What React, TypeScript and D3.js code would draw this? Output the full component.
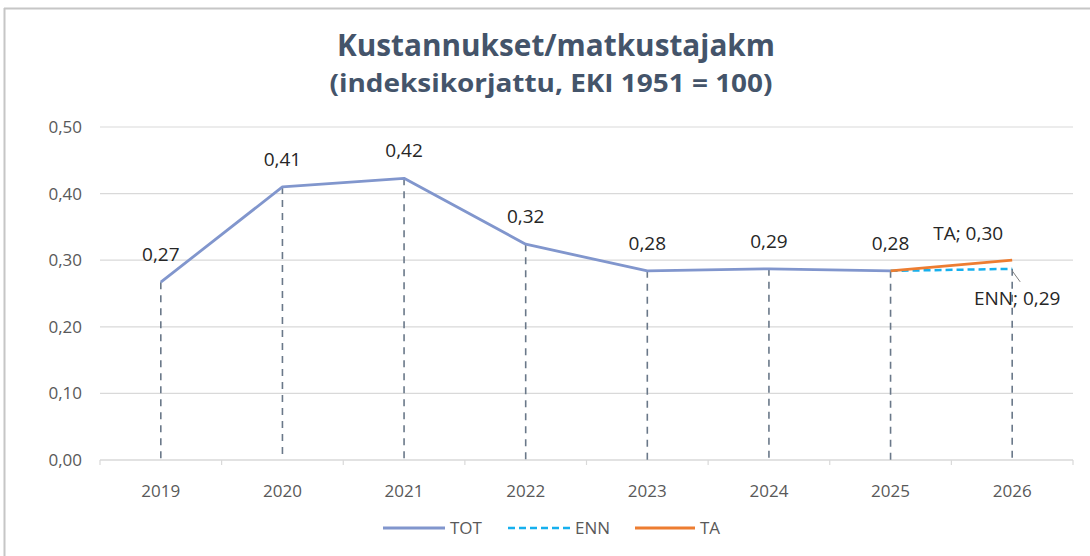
import React from "react";
import * as d3 from "d3";

const years = ["2019", "2020", "2021", "2022", "2023", "2024", "2025", "2026"];
const totValues: (number | null)[] = [0.267, 0.41, 0.423, 0.324, 0.284, 0.287, 0.284, null];
const ennValues: (number | null)[] = [null, null, null, null, null, null, 0.284, 0.287];
const taValues: (number | null)[] = [null, null, null, null, null, null, 0.284, 0.3];
const yTicks = [0, 0.1, 0.2, 0.3, 0.4, 0.5];

const W = 1090;
const H = 556;
const FONT = "'Open Sans', 'Liberation Sans', sans-serif";
const TOT_COLOR = "#8196cd";
const ENN_COLOR = "#16b0ee";
const TA_COLOR = "#ed7d31";
const DROP_COLOR = "#6a7889";

const fmt = (v: number) => d3.format(".2f")(v).replace(".", ",");

export default function App() {
  const x = d3.scaleBand<string>().domain(years).range([100, 1073]).padding(0);
  const y = d3.scaleLinear().domain([0, 0.5]).range([460, 127]);
  const cx = (yr: string) => (x(yr) as number) + x.bandwidth() / 2;

  const line = d3
    .line<number | null>()
    .defined((d) => d !== null)
    .x((_, i) => cx(years[i]))
    .y((d) => y(d as number));

  const boundaries = d3.range(years.length + 1).map((i) => 100 + i * x.bandwidth());

  const dropTops = years.map((yr, i) => {
    const v = totValues[i] ?? ennValues[i];
    return v as number;
  });

  return (
    <svg
      width={W}
      height={H}
      style={{ position: "absolute", left: 0, top: 0, background: "#fff" }}
      fontFamily={FONT}
    >
      <rect x={0} y={0} width={W} height={H} fill="#fff" />
      {/* frame */}
      <line x1={4} x2={W} y1={8.5} y2={8.5} stroke="#c6c6c6" strokeWidth={2} />
      <line x1={4.5} x2={4.5} y1={8} y2={H} stroke="#c6c6c6" strokeWidth={2} />

      {/* title */}
      <text x={556} y={56} textAnchor="middle" fontSize={31} fontWeight={700} fill="#44546a" textLength={438} lengthAdjust="spacingAndGlyphs">
        Kustannukset/matkustajakm
      </text>
      <text x={551} y={92} textAnchor="middle" fontSize={25} fontWeight={700} fill="#44546a" textLength={443} lengthAdjust="spacingAndGlyphs">
        (indeksikorjattu, EKI 1951 = 100)
      </text>

      {/* gridlines */}
      {yTicks.map((t) => (
        <g key={t}>
          {t > 0 && (
            <line x1={100} x2={1073} y1={y(t)} y2={y(t)} stroke="#d9d9d9" strokeWidth={1.2} />
          )}
          <text x={82} y={y(t)} dy="0.35em" textAnchor="end" fontSize={17} fill="#595959">
            {fmt(t)}
          </text>
        </g>
      ))}

      {/* x axis */}
      <line x1={100} x2={1073} y1={y(0)} y2={y(0)} stroke="#d9d9d9" strokeWidth={1.5} />
      {boundaries.map((b, i) => (
        <line key={i} x1={b} x2={b} y1={y(0)} y2={y(0) + 5} stroke="#d9d9d9" strokeWidth={1.2} />
      ))}
      {years.map((yr) => (
        <text key={yr} x={cx(yr)} y={491} dy="0.35em" textAnchor="middle" fontSize={17} fill="#595959">
          {yr}
        </text>
      ))}

      {/* drop lines */}
      {years.map((yr, i) => (
        <line
          key={yr}
          x1={cx(yr)}
          x2={cx(yr)}
          y1={y(dropTops[i])}
          y2={y(0)}
          stroke={DROP_COLOR}
          strokeWidth={1.6}
          strokeDasharray="7,6"
        />
      ))}

      {/* series */}
      <path d={line(totValues) as string} fill="none" stroke={TOT_COLOR} strokeWidth={2.8} strokeLinejoin="round" />
      <path d={line(ennValues) as string} fill="none" stroke={ENN_COLOR} strokeWidth={2.5} strokeDasharray="7,4" />
      <path d={line(taValues) as string} fill="none" stroke={TA_COLOR} strokeWidth={2.8} />

      {/* data labels */}
      {years.map((yr, i) => {
        const v = totValues[i];
        if (v === null) return null;
        return (
          <text key={yr} x={cx(yr)} y={y(v) - 28} dy="0.35em" textAnchor="middle" fontSize={19} fill="#262626">
            {fmt(v)}
          </text>
        );
      })}
      <text x={cx("2026") - 44} y={y(taValues[7] as number) - 27} dy="0.35em" textAnchor="middle" fontSize={19} fill="#262626">
        {"TA; " + fmt(taValues[7] as number)}
      </text>
      <line
        x1={cx("2026")}
        y1={y(ennValues[7] as number) + 2}
        x2={cx("2026") + 8}
        y2={y(ennValues[7] as number) + 13}
        stroke="#7f7f7f"
        strokeWidth={1}
      />
      <text x={cx("2026") + 5} y={y(ennValues[7] as number) + 29} dy="0.35em" textAnchor="middle" fontSize={19} fill="#262626">
        {"ENN; " + fmt(ennValues[7] as number)}
      </text>

      {/* legend */}
      <line x1={383} x2={445} y1={528} y2={528} stroke={TOT_COLOR} strokeWidth={2.8} />
      <text x={450} y={528} dy="0.35em" fontSize={17} fill="#595959">TOT</text>
      <line x1={508} x2={570} y1={528} y2={528} stroke={ENN_COLOR} strokeWidth={2.5} strokeDasharray="7,4" />
      <text x={575} y={528} dy="0.35em" fontSize={17} fill="#595959">ENN</text>
      <line x1={635} x2={695} y1={528} y2={528} stroke={TA_COLOR} strokeWidth={2.8} />
      <text x={700} y={528} dy="0.35em" fontSize={17} fill="#595959">TA</text>
    </svg>
  );
}
